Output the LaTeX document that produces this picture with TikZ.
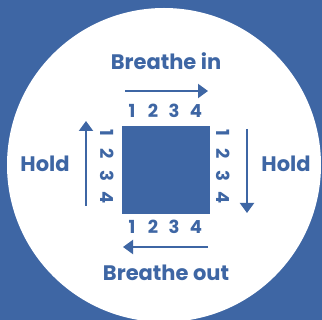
\documentclass[tikz,border=0pt]{standalone}
\usepackage{fontspec}
\setmainfont{Poppins}
\usetikzlibrary{arrows.meta,positioning}

\begin{document}
\begin{tikzpicture}[
        x=1pt, y=-1pt, % coordenadas en pixeles de la imagen
        >={Triangle[width=14pt,length=10pt]},
        flecha/.style={->, color=boxblue, line width=2pt},
        etiqueta/.style={color=boxblue, font=\bfseries\fontsize{21}{24}\selectfont},
        cifra/.style={color=boxblue, font=\bfseries\fontsize{18}{20}\selectfont, inner sep=0pt}
    ]

        % --- COLORES ---
        \definecolor{boxblue}{RGB}{62, 102, 164}

        % --- FONDO Y CIRCULO ---
        \useasboundingbox (0,0) rectangle (322,320);
        \clip (0,0) rectangle (322,320);
        \fill[boxblue] (0,0) rectangle (322,320);
        \fill[white] (164,165) circle (157);

        % --- CUADRADO CENTRAL ---
        \node[fill=boxblue, minimum size=88pt, inner sep=0pt] (caja) at (166,170) {};

        % --- TEXTOS ---
        \node[etiqueta] (inhala) at (166,61) {Breathe in};
        \node[etiqueta] (exhala) at (166,273) {Breathe out};
        \node[etiqueta] (retenIzq) at (45,164) {Hold};
        \node[etiqueta] (retenDer) at (286,164) {Hold};

        % --- CIFRAS ---
        \foreach \n/\p in {1/132, 2/153, 3/174, 4/196} {
            \node[cifra] (arriba\n) at (\p,111) {\n};
            \node[cifra] (abajo\n) at (\p,227) {\n};
        }
        \foreach \n/\p in {1/133, 2/154, 3/176, 4/198} {
            \node[cifra, rotate=-90] (izq\n) at (107,\p) {\n};
            \node[cifra, rotate=-90] (der\n) at (223,\p) {\n};
        }

        % --- FLECHAS ---
        \coordinate (arribaA) at (125,91);
        \coordinate (arribaB) at (208,91);
        \coordinate (derA) at (247,129);
        \coordinate (derB) at (247,213);
        \coordinate (abajoA) at (208,247);
        \coordinate (abajoB) at (123,247);
        \coordinate (izqA) at (86,206);
        \coordinate (izqB) at (86,121);

        \draw[flecha] (arribaA) -- (arribaB);
        \draw[flecha] (derA) -- (derB);
        \draw[flecha] (abajoA) -- (abajoB);
        \draw[flecha] (izqA) -- (izqB);

    \end{tikzpicture}
\end{document}
